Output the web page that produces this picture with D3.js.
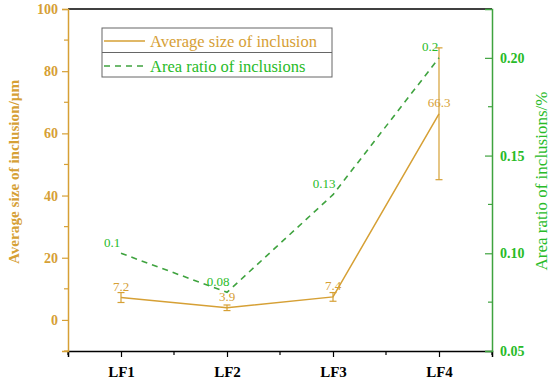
<!DOCTYPE html>
<html>
<head>
<meta charset="utf-8">
<script src="https://cdn.jsdelivr.net/npm/d3@7"></script>
<style>
  body { margin: 0; background: #fff; }
  svg { font-family: "Liberation Serif", "Times New Roman", serif; }
</style>
</head>
<body>
<div id="chart"></div>
<script>
// data
var categories = ['LF1', 'LF2', 'LF3', 'LF4'];
var avgSize = [7.2, 3.9, 7.4, 66.3];
var avgSizeErr = [1.6, 0.9, 1.4, 21.2];
var areaRatio = [0.1, 0.08, 0.13, 0.2];
var leftTicks = [0, 20, 40, 60, 80, 100];
var rightTicks = [0.05, 0.10, 0.15, 0.20];

var width = 550;
var height = 380;
var orange = '#d6a035';
var green = '#3fa33f';
var greenText = '#28bb28';

var margin = {top: 9, right: 58, bottom: 29, left: 68};
var x0 = margin.left;
var x1 = width - margin.right;
var y0 = height - margin.bottom;
var y1 = margin.top;

var x = d3.scaleLinear().domain([0.5, 4.5]).range([x0, x1]);
var yL = d3.scaleLinear().domain([-10, 100]).range([y0, y1]);
var yR = d3.scaleLinear().domain([0.05, 0.225]).range([y0, y1]);

var svg = d3.select('#chart').append('svg')
  .attr('width', width)
  .attr('height', height);

// top frame line
svg.append('line')
  .attr('x1', x0).attr('x2', x1)
  .attr('y1', y1).attr('y2', y1)
  .attr('stroke', '#000').attr('stroke-width', 1.5);

// bottom axis
var xAxis = d3.axisBottom(x)
  .tickValues([1, 2, 3, 4])
  .tickSize(6)
  .tickFormat(function (d) { return categories[d - 1]; });

var gx = svg.append('g')
  .attr('transform', 'translate(0,' + y0 + ')')
  .call(xAxis);
gx.select('.domain').attr('stroke', '#000').attr('stroke-width', 1.5);
gx.selectAll('.tick line').attr('stroke', '#000').attr('stroke-width', 1.2);
gx.selectAll('.tick text')
  .attr('dy', '1.1em')
  .style('font-size', '15px')
  .style('font-weight', 'bold')
  .style('font-family', '"Liberation Serif", serif')
  .attr('fill', '#000');
gx.selectAll('.minor')
  .data([0.5, 1.5, 2.5, 3.5, 4.5])
  .enter().append('line')
  .attr('x1', function (d) { return x(d); })
  .attr('x2', function (d) { return x(d); })
  .attr('y1', 0).attr('y2', 4)
  .attr('stroke', '#000').attr('stroke-width', 1.2);

// left axis
var gl = svg.append('g')
  .attr('transform', 'translate(' + x0 + ',0)')
  .call(d3.axisLeft(yL).tickValues(leftTicks).tickSize(6).tickPadding(4));
gl.select('.domain').attr('stroke', orange).attr('stroke-width', 1.5);
gl.selectAll('.tick line').attr('stroke', orange).attr('stroke-width', 1.2);
gl.selectAll('.tick text')
  .style('font-size', '14px')
  .style('font-weight', 'bold')
  .style('font-family', '"Liberation Serif", serif')
  .attr('fill', orange);
gl.selectAll('.minor')
  .data([-10, 10, 30, 50, 70, 90])
  .enter().append('line')
  .attr('x1', -4).attr('x2', 0)
  .attr('y1', function (d) { return yL(d); })
  .attr('y2', function (d) { return yL(d); })
  .attr('stroke', orange).attr('stroke-width', 1.2);

// right axis, ticks point inward
var gr = svg.append('g')
  .attr('transform', 'translate(' + x1 + ',0)')
  .call(d3.axisRight(yR).tickValues(rightTicks).tickSize(-7).tickPadding(8)
    .tickFormat(d3.format('.2f')));
gr.select('.domain').attr('stroke', green).attr('stroke-width', 1.5);
gr.selectAll('.tick line').attr('stroke', green).attr('stroke-width', 1.2);
gr.selectAll('.tick text')
  .style('font-size', '14px')
  .style('font-weight', 'bold')
  .style('font-family', '"Liberation Serif", serif')
  .attr('fill', greenText);
gr.selectAll('.minor')
  .data([0.075, 0.125, 0.175])
  .enter().append('line')
  .attr('x1', -4).attr('x2', 0)
  .attr('y1', function (d) { return yR(d); })
  .attr('y2', function (d) { return yR(d); })
  .attr('stroke', green).attr('stroke-width', 1.2);

// axis titles
svg.append('text')
  .attr('transform', 'translate(19,172) rotate(-90)')
  .attr('text-anchor', 'middle')
  .style('font-size', '15.2px')
  .style('font-weight', 'bold')
  .attr('fill', orange)
  .text('Average size of inclusion/\u03bcm');

svg.append('text')
  .attr('transform', 'translate(547,181) rotate(-90)')
  .attr('text-anchor', 'middle')
  .style('font-size', '17px')
  .attr('fill', greenText)
  .text('Area ratio of inclusions/%');

// orange series with error bars
var lineL = d3.line()
  .x(function (d, i) { return x(i + 1); })
  .y(function (d) { return yL(d); });

svg.append('path')
  .datum(avgSize)
  .attr('d', lineL)
  .attr('fill', 'none')
  .attr('stroke', orange)
  .attr('stroke-width', 1.5);

var err = svg.append('g').selectAll('g')
  .data(avgSize)
  .enter().append('g')
  .attr('stroke', orange)
  .attr('stroke-width', 1.2);
err.append('line')
  .attr('x1', function (d, i) { return x(i + 1); })
  .attr('x2', function (d, i) { return x(i + 1); })
  .attr('y1', function (d, i) { return yL(d - avgSizeErr[i]); })
  .attr('y2', function (d, i) { return yL(d + avgSizeErr[i]); });
[-1, 1].forEach(function (s) {
  err.append('line')
    .attr('x1', function (d, i) { return x(i + 1) - 3.5; })
    .attr('x2', function (d, i) { return x(i + 1) + 3.5; })
    .attr('y1', function (d, i) { return yL(d + s * avgSizeErr[i]); })
    .attr('y2', function (d, i) { return yL(d + s * avgSizeErr[i]); });
});

svg.append('g').selectAll('text')
  .data(avgSize)
  .enter().append('text')
  .attr('x', function (d, i) { return x(i + 1); })
  .attr('y', function (d) { return yL(d) - 7; })
  .attr('text-anchor', 'middle')
  .style('font-size', '13px')
  .attr('fill', orange)
  .text(function (d) { return d; });

// green dashed series
var lineR = d3.line()
  .x(function (d, i) { return x(i + 1); })
  .y(function (d) { return yR(d); });

svg.append('path')
  .datum(areaRatio)
  .attr('d', lineR)
  .attr('fill', 'none')
  .attr('stroke', green)
  .attr('stroke-width', 1.6)
  .attr('stroke-dasharray', '6,5');

svg.append('g').selectAll('text')
  .data(areaRatio)
  .enter().append('text')
  .attr('x', function (d, i) { return x(i + 1) - 9; })
  .attr('y', function (d) { return yR(d) - 6.5; })
  .attr('text-anchor', 'middle')
  .style('font-size', '13px')
  .attr('fill', greenText)
  .text(function (d) { return d; });

// legend
var lg = svg.append('g').attr('transform', 'translate(102,28)');
lg.append('rect')
  .attr('width', 230).attr('height', 49)
  .attr('fill', 'none').attr('stroke', '#666').attr('stroke-width', 1);
lg.append('line')
  .attr('x1', 0).attr('x2', 230).attr('y1', 24.5).attr('y2', 24.5)
  .attr('stroke', '#666').attr('stroke-width', 1);
lg.append('line')
  .attr('x1', 2).attr('x2', 43).attr('y1', 13).attr('y2', 13)
  .attr('stroke', orange).attr('stroke-width', 1.5);
lg.append('line')
  .attr('x1', 2).attr('x2', 43).attr('y1', 38).attr('y2', 38)
  .attr('stroke', green).attr('stroke-width', 1.6)
  .attr('stroke-dasharray', '6,5');
lg.append('text')
  .attr('x', 48).attr('y', 19)
  .style('font-size', '16.5px')
  .attr('fill', orange)
  .text('Average size of inclusion');
lg.append('text')
  .attr('x', 48).attr('y', 44)
  .style('font-size', '16.5px')
  .attr('fill', greenText)
  .text('Area ratio of inclusions');
</script>
</body>
</html>
